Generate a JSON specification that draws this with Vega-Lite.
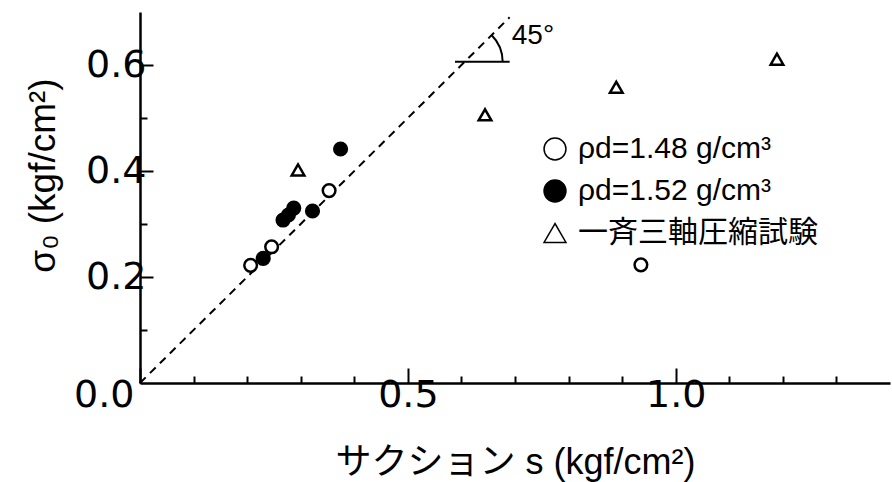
{
  "$schema": "https://vega.github.io/schema/vega-lite/v6.json",
  "autosize": {"type": "none"},
  "padding": {"left": 140, "top": 12, "right": 2, "bottom": 99},
  "width": 750,
  "height": 371,
  "background": "white",
  "config": {
    "view": {"stroke": null},
    "font": "Liberation Sans",
    "axis": {
      "grid": false,
      "domainColor": "black",
      "domainWidth": 2.5,
      "tickColor": "black",
      "tickWidth": 2,
      "labelColor": "black",
      "labelFont": "DejaVu Sans",
      "labelFontSize": 38,
      "titleColor": "black",
      "titleFontWeight": "normal"
    }
  },
  "encoding": {
    "x": {
      "field": "s",
      "type": "quantitative",
      "scale": {"domain": [0, 1.4], "nice": false, "zero": true},
      "axis": {
        "title": "サクション s (kgf/cm²)",
        "titleFont": "Liberation Sans, Noto Sans CJK JP",
        "titleFontSize": 36,
        "titleY": 79,
        "titleAlign": "center",
        "titleBaseline": "middle",
        "values": [0, 0.1, 0.2, 0.3, 0.4, 0.5, 0.6, 0.7, 0.8, 0.9, 1, 1.1, 1.2, 1.3],
        "labelExpr": "datum.value == 0 ? '0.0' : (datum.value == 0.5 ? '0.5' : (datum.value == 1 ? '1.0' : ''))",
        "labelAlign": {"condition": {"test": "datum.value == 0", "value": "right"}, "value": "center"},
        "labelOffset": {"condition": {"test": "datum.value == 0", "value": -6}, "value": 0},
        "tickSize": {"condition": {"test": "datum.value == 0 || datum.value == 0.5 || datum.value == 1", "value": -15}, "value": -7},
        "labelPadding": 8,
        "labelBaseline": "top"
      }
    },
    "y": {
      "field": "sig",
      "type": "quantitative",
      "scale": {"domain": [0, 0.7], "nice": false, "zero": true},
      "axis": {
        "title": "σ₀ (kgf/cm²)",
        "titleFont": "Liberation Sans",
        "titleFontSize": 37,
        "titleX": -97,
        "titleY": 163,
        "titleAlign": "center",
        "titleBaseline": "middle",
        "titleAngle": -90,
        "values": [0.1, 0.2, 0.3, 0.4, 0.5, 0.6],
        "labelExpr": "(datum.value == 0.2 || datum.value == 0.4 || datum.value == 0.6) ? format(datum.value, '.1f') : ''",
        "tickSize": {"condition": {"test": "datum.value == 0.2 || datum.value == 0.4 || datum.value == 0.6", "value": -13}, "value": -7},
        "labelPadding": 7
      }
    }
  },
  "layer": [
    {
      "data": {"values": [{"s": 0, "sig": 0}, {"s": 0.69, "sig": 0.69}]},
      "mark": {"type": "line", "color": "black", "strokeWidth": 2, "strokeDash": [8, 6]}
    },
    {
      "data": {"values": [{"s": 0.588, "sig": 0.606}, {"s": 0.69, "sig": 0.606}]},
      "mark": {"type": "line", "color": "black", "strokeWidth": 2}
    },
    {
      "data": {"values": [{"s": 0.606, "sig": 0.606}]},
      "mark": {"type": "arc", "color": "black", "theta": 0.785, "theta2": 1.571, "radius": 39, "radius2": 37}
    },
    {
      "data": {"values": [{"s": 0.694, "sig": 0.655, "t": "45°"}]},
      "mark": {"type": "text", "align": "left", "baseline": "middle", "fontSize": 28, "font": "Liberation Sans", "color": "black"},
      "encoding": {"text": {"field": "t"}}
    },
    {
      "data": {
        "values": [
          {"s": 0.2065, "sig": 0.222, "g": "a"},
          {"s": 0.2457, "sig": 0.257, "g": "a"},
          {"s": 0.353, "sig": 0.363, "g": "a"},
          {"s": 0.935, "sig": 0.223, "g": "a"},
          {"s": 0.230, "sig": 0.235, "g": "b"},
          {"s": 0.267, "sig": 0.3075, "g": "b"},
          {"s": 0.277, "sig": 0.317, "g": "b"},
          {"s": 0.287, "sig": 0.330, "g": "b"},
          {"s": 0.322, "sig": 0.3245, "g": "b"},
          {"s": 0.3744, "sig": 0.4415, "g": "b"},
          {"s": 0.295, "sig": 0.402, "g": "c"},
          {"s": 0.644, "sig": 0.506, "g": "c"},
          {"s": 0.889, "sig": 0.558, "g": "c"},
          {"s": 1.189, "sig": 0.611, "g": "c"}
        ]
      },
      "mark": {"type": "point", "filled": false, "strokeWidth": 2.5, "opacity": 1, "size": 160},
      "encoding": {
        "shape": {
          "field": "g",
          "type": "nominal",
          "scale": {"domain": ["a", "b", "c"], "range": ["circle", "circle", "triangle-up"]},
          "legend": {
            "title": null,
            "orient": "none",
            "legendX": 400,
            "legendY": 122,
            "labelExpr": "datum.value == 'a' ? 'ρd=1.48 g/cm³' : (datum.value == 'b' ? 'ρd=1.52 g/cm³' : '一斉三軸圧縮試験')",
            "labelFont": "Liberation Sans, Noto Sans CJK JP",
            "labelFontSize": 30,
            "labelColor": "black",
            "labelLimit": 400,
            "symbolSize": 480,
            "symbolStrokeWidth": 1.5,
            "rowPadding": 12,
            "labelOffset": 8
          }
        },
        "fill": {
          "field": "g",
          "type": "nominal",
          "scale": {"domain": ["a", "b", "c"], "range": ["white", "black", "white"]}
        },
        "stroke": {
          "field": "g",
          "type": "nominal",
          "scale": {"domain": ["a", "b", "c"], "range": ["black", "black", "black"]}
        }
      }
    }
  ]
}
